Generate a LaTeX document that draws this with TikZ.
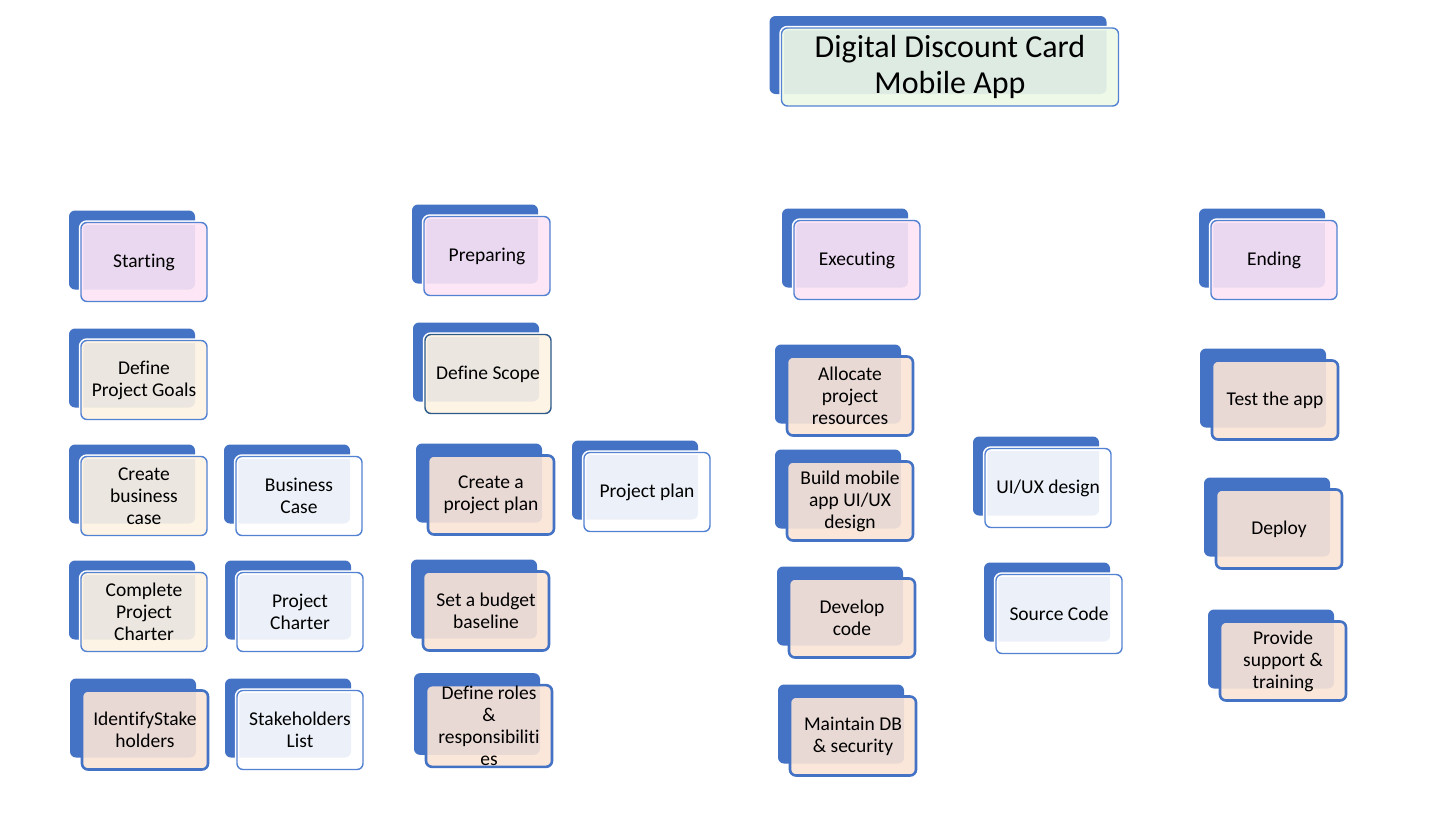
\documentclass[tikz,border=0pt]{standalone}
\usepackage{fontspec}
\setmainfont{Carlito}[Ligatures=NoCommon]
\usepackage{xcolor}
\usepackage{tikz}
\usetikzlibrary{shadows}
\definecolor{backColor}{RGB}{68, 114, 196}
\definecolor{lineColor}{RGB}{84, 130, 210}
\definecolor{darkLine}{RGB}{46, 90, 138}
\definecolor{phaseColor}{RGB}{253, 228, 245}
\definecolor{creamColor}{RGB}{254, 243, 228}
\definecolor{peachColor}{RGB}{251, 229, 214}
\definecolor{titleColor}{RGB}{238, 249, 230}

\tikzset{
    card/.style={rounded corners=6pt, minimum width=126pt, minimum height=79pt,
        inner sep=1pt, align=center, fill opacity=0.9, text opacity=1,
        font=\fontsize{19.5}{22}\selectfont,
        copy shadow={shadow xshift=-12pt, shadow yshift=12pt, fill=backColor, draw=none, fill opacity=1}},
    halo/.style={preaction={draw=white, line width=4.5pt, fill opacity=1}},
    phase/.style={card, halo, fill=phaseColor, draw=lineColor, line width=1.4pt},
    goal/.style={card, halo, fill=creamColor, draw=lineColor, line width=1.4pt},
    task/.style={card, fill=peachColor, draw=backColor, line width=2.6pt},
    output/.style={card, halo, fill=white, draw=lineColor, line width=1.4pt}
}

\begin{document}
\begin{tikzpicture}[x=1pt, y=-1pt]
    \useasboundingbox[fill=white] (0,0) rectangle (1450,830);

    % Title
    \node[phase, fill=titleColor, minimum width=337pt, minimum height=78pt,
        font=\fontsize{32}{36}\selectfont] (title) at (950,67) {Digital Discount Card\\Mobile App};

    % Starting
    \node[phase] (starting) at (144,262) {Starting};
    \node[goal] (goals) at (144,380) {Define\\Project Goals};
    \node[goal] (bizcase) at (144,496) {Create\\business\\case};
    \node[output] (bizcaseDoc) at (299,496) {Business\\Case};
    \node[goal] (charter) at (144,612) {Complete\\Project\\Charter};
    \node[output] (charterDoc) at (300,612) {Project\\Charter};
    \node[task] (stakeholders) at (145,730) {IdentifyStake\\holders};
    \node[output] (stakeList) at (300,730) {Stakeholders\\List};

    % Preparing
    \node[phase] (preparing) at (487,256) {Preparing};
    \node[goal, draw=darkLine] (scope) at (488,374) {Define Scope};
    \node[task] (plan) at (491,495) {Create a\\project plan};
    \node[output] (planDoc) at (647,492) {Project plan};
    \node[task] (budget) at (486,611) {Set a budget\\baseline};
    \node[task] (roles) at (489,726) {Define roles\\\&\\responsibiliti\\es};

    % Executing
    \node[phase] (executing) at (857,260) {Executing};
    \node[task] (resources) at (850,396) {Allocate\\project\\resources};
    \node[task] (uiux) at (850,501) {Build mobile\\app UI/UX\\design};
    \node[output] (uiuxDoc) at (1048,488) {UI/UX design};
    \node[task] (code) at (852,618) {Develop\\code};
    \node[output] (codeDoc) at (1059,614) {Source Code};
    \node[task] (db) at (853,736) {Maintain DB\\\& security};

    % Ending
    \node[phase] (ending) at (1274,260) {Ending};
    \node[task] (test) at (1275,400) {Test the app};
    \node[task] (deploy) at (1279,529) {Deploy};
    \node[task] (support) at (1283,661) {Provide\\support \&\\training};
\end{tikzpicture}
\end{document}
